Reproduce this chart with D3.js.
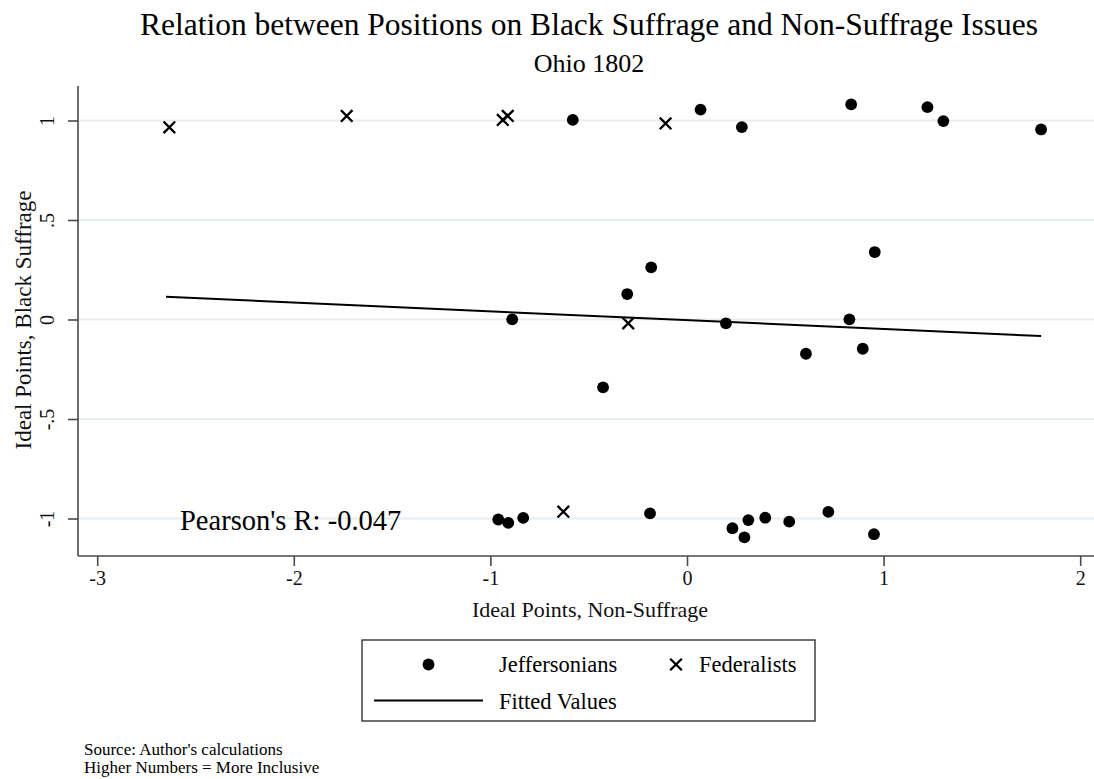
<!DOCTYPE html>
<html>
<head>
<meta charset="utf-8">
<script src="https://cdn.jsdelivr.net/npm/d3@7"></script>
<style>
  html, body { margin: 0; padding: 0; background: #fff; }
  svg { display: block; font-family: "Liberation Serif", "Times New Roman", serif; }
  svg text { font-family: "Liberation Serif", "Times New Roman", serif; }
</style>
</head>
<body>
<svg id="chart" width="1094" height="779"></svg>
<script>
// ---- data ----
const jeffX = [-0.581, 0.069, 0.279, 0.835, 1.223, 1.304, 1.801,
               -0.889, -0.304, -0.182, -0.427, 0.198, 0.605, 0.826, 0.894, 0.955,
               -0.960, -0.909, -0.833, -0.188, 0.231, 0.292, 0.312, 0.398, 0.520, 0.719, 0.951];
const jeffY = [1.003, 1.055, 0.967, 1.081, 1.067, 0.997, 0.955,
               0.001, 0.128, 0.262, -0.341, -0.019, -0.172, 0.001, -0.147, 0.339,
               -1.005, -1.022, -0.997, -0.974, -1.049, -1.095, -1.008, -0.996, -1.016, -0.967, -1.079];
const fedX = [-2.633, -1.731, -0.937, -0.912, -0.109, -0.299, -0.629];
const fedY = [0.966, 1.023, 1.003, 1.023, 0.985, -0.019, -0.966];
const fitX = [-2.65, 1.801];
const fitY = [0.114, -0.083];
const xTickValues = [-3, -2, -1, 0, 1, 2];
const yTickValues = [-1, -0.5, 0, 0.5, 1];
const yTickLabels = ["-1", "-.5", "0", ".5", "1"];
const titleText = "Relation between Positions on Black Suffrage and Non-Suffrage Issues";
const subtitleText = "Ohio 1802";
const xTitle = "Ideal Points, Non-Suffrage";
const yTitle = "Ideal Points, Black Suffrage";
const pearsonText = "Pearson's R: -0.047";
const legendLabels = ["Jeffersonians", "Federalists", "Fitted Values"];
const notes = ["Source: Author's calculations", "Higher Numbers = More Inclusive"];

// ---- layout ----
const svg = d3.select("#chart");
const plotLeft = 78, plotRight = 1094, plotTop = 86, plotBottom = 556;
const x = d3.scaleLinear().domain([-3, 2]).range([97.2, 1080.2]);
const y = d3.scaleLinear().domain([-1, 1]).range([518.5, 120.5]);
const axisColor = "#4a4a4a";
const gridColor = "#e6eef1";
const xs = 5.8;
const crossPath = `M${-xs},${-xs}L${xs},${xs}M${-xs},${xs}L${xs},${-xs}`;

// gridlines
svg.append("g").selectAll("line").data(yTickValues).join("line")
  .attr("x1", plotLeft).attr("x2", plotRight)
  .attr("y1", d => y(d)).attr("y2", d => y(d))
  .attr("stroke", gridColor).attr("stroke-width", 2);

// y axis
const yAxis = svg.append("g").attr("transform", `translate(${plotLeft},0)`)
  .call(d3.axisLeft(y).tickValues(yTickValues).tickSize(10).tickSizeOuter(0)
        .tickFormat((d, i) => yTickLabels[i]));
yAxis.select(".domain").remove();
yAxis.append("line").attr("x1", 0).attr("x2", 0).attr("y1", plotTop).attr("y2", plotBottom)
  .attr("stroke", axisColor).attr("stroke-width", 1.6);
yAxis.selectAll(".tick line").attr("stroke", axisColor).attr("stroke-width", 1.6);
yAxis.selectAll(".tick text")
  .attr("x", 0).attr("y", 0).attr("dy", null)
  .attr("transform", "translate(-24,0) rotate(-90)")
  .attr("text-anchor", "middle")
  .attr("fill", "#111").style("font-size", "20px");

// x axis
const xAxis = svg.append("g").attr("transform", `translate(0,${plotBottom})`)
  .call(d3.axisBottom(x).tickValues(xTickValues).tickSize(10).tickSizeOuter(0));
xAxis.select(".domain").remove();
xAxis.append("line").attr("x1", plotLeft).attr("x2", plotRight).attr("y1", 0).attr("y2", 0)
  .attr("stroke", axisColor).attr("stroke-width", 1.6);
xAxis.selectAll(".tick line").attr("stroke", axisColor).attr("stroke-width", 1.6);
xAxis.selectAll(".tick text").attr("y", 29).attr("dy", null)
  .attr("fill", "#111").style("font-size", "20px")
  .text(d => d < 0 ? "-" + Math.abs(d) : d);

// fitted line
svg.append("path")
  .datum(fitX.map((v, i) => [v, fitY[i]]))
  .attr("d", d3.line().x(d => x(d[0])).y(d => y(d[1])))
  .attr("fill", "none").attr("stroke", "#000").attr("stroke-width", 2);

// Jeffersonian dots
svg.append("g").selectAll("circle").data(jeffX.map((v, i) => [v, jeffY[i]])).join("circle")
  .attr("cx", d => x(d[0])).attr("cy", d => y(d[1])).attr("r", 5.9).attr("fill", "#000");

// Federalist crosses
svg.append("g").selectAll("path").data(fedX.map((v, i) => [v, fedY[i]])).join("path")
  .attr("transform", d => `translate(${x(d[0])},${y(d[1])})`)
  .attr("d", crossPath)
  .attr("stroke", "#000").attr("stroke-width", 2.3).attr("fill", "none");

// Pearson annotation
svg.append("text").attr("x", 180).attr("y", 530).text(pearsonText)
  .style("font-size", "28.5px").attr("fill", "#000");

// titles
svg.append("text").attr("x", 589).attr("y", 35).attr("text-anchor", "middle")
  .style("font-size", "31.5px").attr("fill", "#000").text(titleText);
svg.append("text").attr("x", 589).attr("y", 72).attr("text-anchor", "middle")
  .style("font-size", "26px").attr("fill", "#000").text(subtitleText);
svg.append("text").attr("x", 590).attr("y", 617).attr("text-anchor", "middle")
  .style("font-size", "22px").attr("fill", "#111").text(xTitle);
svg.append("text").attr("transform", "translate(31,320) rotate(-90)").attr("text-anchor", "middle")
  .style("font-size", "23px").attr("fill", "#111").text(yTitle);

// legend
const lg = svg.append("g");
lg.append("rect").attr("x", 362).attr("y", 640).attr("width", 453).attr("height", 81)
  .attr("fill", "#fff").attr("stroke", "#333").attr("stroke-width", 1.4);
lg.append("circle").attr("cx", 428.5).attr("cy", 664.5).attr("r", 5.9).attr("fill", "#000");
lg.append("text").attr("x", 499).attr("y", 672).style("font-size", "22.5px").text(legendLabels[0]);
lg.append("path").attr("transform", "translate(676,664.5)")
  .attr("d", crossPath).attr("stroke", "#000").attr("stroke-width", 2.3);
lg.append("text").attr("x", 699).attr("y", 672).style("font-size", "22.5px").text(legendLabels[1]);
lg.append("line").attr("x1", 374).attr("x2", 483).attr("y1", 700.5).attr("y2", 700.5)
  .attr("stroke", "#000").attr("stroke-width", 2);
lg.append("text").attr("x", 499).attr("y", 709).style("font-size", "22.5px").text(legendLabels[2]);

// notes
svg.append("g").selectAll("text").data(notes).join("text")
  .attr("x", 84).attr("y", (d, i) => 755 + i * 17.5)
  .style("font-size", "17px").attr("fill", "#000").text(d => d);
</script>
</body>
</html>
